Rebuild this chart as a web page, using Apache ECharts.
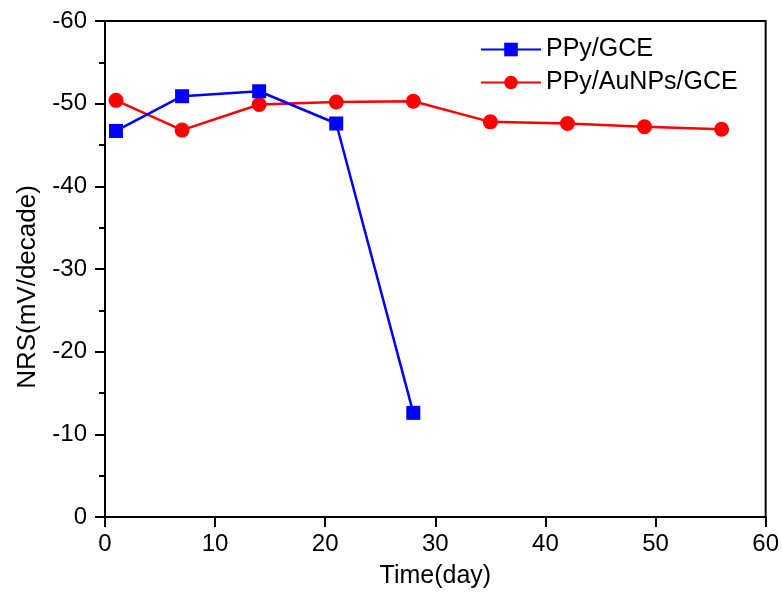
<!DOCTYPE html>
<html>
<head>
<meta charset="utf-8">
<script src="https://cdn.jsdelivr.net/npm/echarts@6/dist/echarts.min.js"></script>
<style>
  html, body { margin: 0; padding: 0; background: #fff; }
  #chart { width: 782px; height: 598px; }
</style>
</head>
<body>
<div id="chart"></div>
<script>
// Storage stability: Nernstian response slope over time
const daysPPy = [1, 7, 14, 21, 28];
const nrsPPy = [-46.7, -50.9, -51.5, -47.6, -12.6];

const daysAu = [1, 7, 14, 21, 28, 35, 42, 49, 56];
const nrsAu = [-50.4, -46.8, -49.9, -50.2, -50.3, -47.8, -47.6, -47.2, -46.9];

const seriesNames = ['PPy/GCE', 'PPy/AuNPs/GCE'];
const xTitle = 'Time(day)';
const yTitle = 'NRS(mV/decade)';

const FONT = '"Liberation Sans", Arial, sans-serif';

const pair = (xs, ys) => xs.map((x, i) => [x, ys[i]]);

const chart = echarts.init(document.getElementById('chart'), null, { renderer: 'canvas' });

chart.setOption({
  animation: false,
  backgroundColor: '#fff',
  grid: {
    left: 105, right: 15, top: 21, bottom: 81,
    show: true, borderColor: '#000', borderWidth: 2, backgroundColor: 'transparent'
  },
  legend: {
    orient: 'vertical',
    left: 475,
    top: 32,
    itemWidth: 60,
    itemHeight: 17,
    itemGap: 8,
    textStyle: { fontFamily: FONT, fontSize: 25, color: '#000' },
    data: seriesNames
  },
  xAxis: {
    type: 'value',
    min: 0, max: 60, interval: 10,
    name: xTitle,
    nameLocation: 'middle',
    nameGap: 47,
    nameTextStyle: { fontFamily: FONT, fontSize: 25, color: '#000' },
    axisLine: { show: true, onZero: false, lineStyle: { color: '#000', width: 2 } },
    axisTick: { show: true, length: 10, lineStyle: { color: '#000', width: 2 } },
    axisLabel: { fontFamily: FONT, fontSize: 24, color: '#000', margin: 15 },
    splitLine: { show: false }
  },
  yAxis: {
    type: 'value',
    inverse: true,
    min: -60, max: 0, interval: 10,
    name: yTitle,
    nameLocation: 'middle',
    nameGap: 64,
    nameTextStyle: { fontFamily: FONT, fontSize: 26, color: '#000', padding: [0, 36, 0, 0] },
    axisLine: { show: true, onZero: false, lineStyle: { color: '#000', width: 2 } },
    axisTick: { show: true, length: 10, lineStyle: { color: '#000', width: 2 } },
    minorTick: { show: true, splitNumber: 2, length: 6, lineStyle: { color: '#000', width: 2 } },
    axisLabel: { fontFamily: FONT, fontSize: 24, color: '#000', margin: 18 },
    splitLine: { show: false }
  },
  series: [
    {
      name: seriesNames[0],
      type: 'line',
      data: pair(daysPPy, nrsPPy),
      symbol: 'rect',
      symbolSize: 14,
      itemStyle: { color: '#0000ff' },
      lineStyle: { color: '#0000ff', width: 2.5 },
      z: 3
    },
    {
      name: seriesNames[1],
      type: 'line',
      data: pair(daysAu, nrsAu),
      symbol: 'circle',
      symbolSize: 15,
      itemStyle: { color: '#ff0000' },
      lineStyle: { color: '#ff0000', width: 2.5 },
      z: 2
    }
  ]
});
</script>
</body>
</html>
